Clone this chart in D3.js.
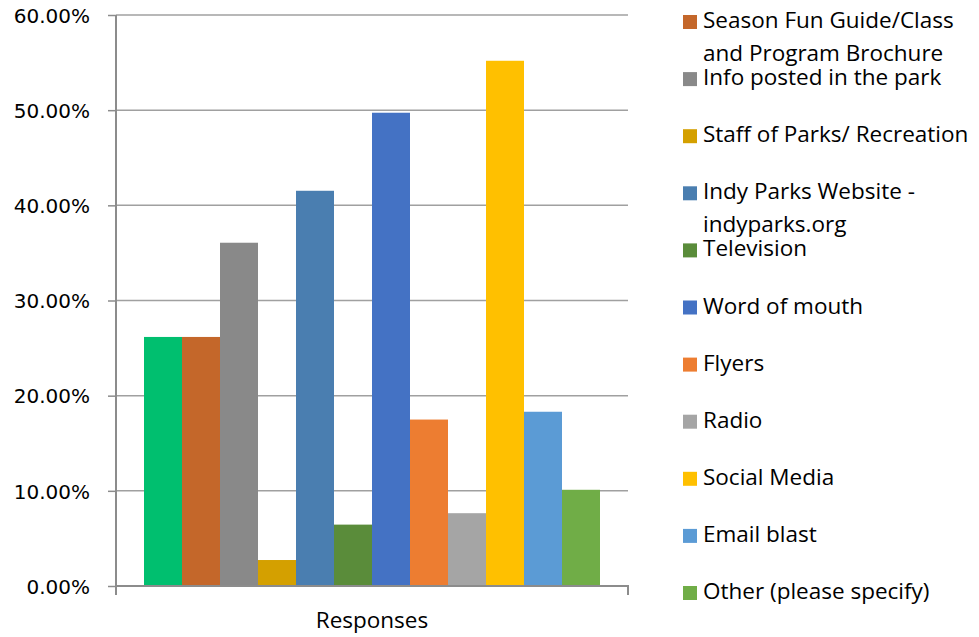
<!DOCTYPE html>
<html>
<head>
<meta charset="utf-8">
<script src="https://cdn.jsdelivr.net/npm/d3@7/dist/d3.min.js"></script>
<style>
  html, body { margin: 0; padding: 0; background: #fff; }
  svg { display: block; }
</style>
</head>
<body>
<svg id="chart" width="979" height="637"></svg>
<script>
// ---- data ----
const categories = ["Responses"];
const seriesNames = [
  "",
  "Season Fun Guide/Class and Program Brochure",
  "Info posted in the park",
  "Staff of Parks/ Recreation",
  "Indy Parks Website - indyparks.org",
  "Television",
  "Word of mouth",
  "Flyers",
  "Radio",
  "Social Media",
  "Email blast",
  "Other (please specify)"
];
const seriesValues = [0.2617, 0.2617, 0.3607, 0.0273, 0.4153, 0.0645, 0.4973, 0.1749, 0.0765, 0.5519, 0.1831, 0.1011];
const seriesColors = ["#00BF6F", "#C4672A", "#898989", "#D4A000", "#4A7EB0", "#5A8C3A",
                      "#4472C4", "#ED7D31", "#A5A5A5", "#FFC000", "#5B9BD5", "#70AD47"];
// legend lines (wrapped as in the original)
const legendLines = [
  ["Season Fun Guide/Class", "and Program Brochure"],
  ["Info posted in the park"],
  ["Staff of Parks/ Recreation"],
  ["Indy Parks Website -", "indyparks.org"],
  ["Television"],
  ["Word of mouth"],
  ["Flyers"],
  ["Radio"],
  ["Social Media"],
  ["Email blast"],
  ["Other (please specify)"]
];
const yTicks = [0, 0.1, 0.2, 0.3, 0.4, 0.5, 0.6];

// ---- layout ----
const svg = d3.select("#chart");
const plot = { left: 116, right: 628, top: 15, bottom: 586 };

const y = d3.scaleLinear().domain([0, 0.6]).range([plot.bottom, plot.top]);
const x0 = d3.scaleBand().domain(categories).range([plot.left, plot.right])
  .paddingInner(0).paddingOuter(0.0614);
const idx = d3.range(seriesValues.length);
const x1 = d3.scaleBand().domain(idx).range([0, x0.bandwidth()]).padding(0);

// gridlines
svg.append("g").selectAll("line").data(yTicks.filter(d => d > 0)).join("line")
  .attr("x1", plot.left).attr("x2", plot.right)
  .attr("y1", d => y(d)).attr("y2", d => y(d))
  .attr("stroke", "#A0A0A0").attr("stroke-width", 1.5);

// bars
const g = svg.append("g");
categories.forEach(cat => {
  g.selectAll("rect").data(idx).join("rect")
    .attr("x", i => x0(cat) + x1(i))
    .attr("width", x1.bandwidth())
    .attr("y", i => y(seriesValues[i]))
    .attr("height", i => y(0) - y(seriesValues[i]))
    .attr("fill", i => seriesColors[i]);
});

// y axis
const yAxis = d3.axisLeft(y).tickValues(yTicks).tickSize(8).tickPadding(18)
  .tickFormat(d => d3.format(".2f")(d * 100) + "%");
const ya = svg.append("g").attr("transform", `translate(${plot.left},0)`).call(yAxis);
ya.select(".domain").attr("stroke", "#8C8C8C").attr("stroke-width", 2)
  .attr("d", `M0,${plot.top}V${plot.bottom + 9}`);
ya.selectAll(".tick line").attr("stroke", "#8C8C8C").attr("stroke-width", 1.5);
ya.selectAll(".tick text").attr("font-family", "DejaVu Sans").attr("font-size", 20)
  .attr("fill", "#000").attr("dy", "0.36em");

// x axis
const xa = svg.append("g").attr("transform", `translate(0,${plot.bottom})`)
  .call(d3.axisBottom(x0).tickSize(0).tickFormat(""));
xa.select(".domain").attr("stroke", "#8C8C8C").attr("stroke-width", 2)
  .attr("d", `M${plot.left},0H${plot.right}V9`);
svg.append("text")
  .attr("x", x0(categories[0]) + x0.bandwidth() / 2).attr("y", 628)
  .attr("text-anchor", "middle")
  .attr("font-family", "Open Sans").attr("font-size", 22.5).attr("fill", "#000")
  .text(categories[0]);

// legend
const leg = svg.append("g");
const legStart = 28, legStep = 57.1, lineGap = 33;
legendLines.forEach((lines, k) => {
  const i = k + 1;
  const by = legStart + k * legStep;
  leg.append("rect").attr("x", 683).attr("y", by - 13).attr("width", 14).attr("height", 14)
    .attr("fill", seriesColors[i]);
  lines.forEach((t, j) => {
    leg.append("text").attr("x", 703).attr("y", by + j * lineGap)
      .attr("font-family", "Open Sans").attr("font-size", 22.5).attr("fill", "#000")
      .text(t);
  });
});
</script>
</body>
</html>
